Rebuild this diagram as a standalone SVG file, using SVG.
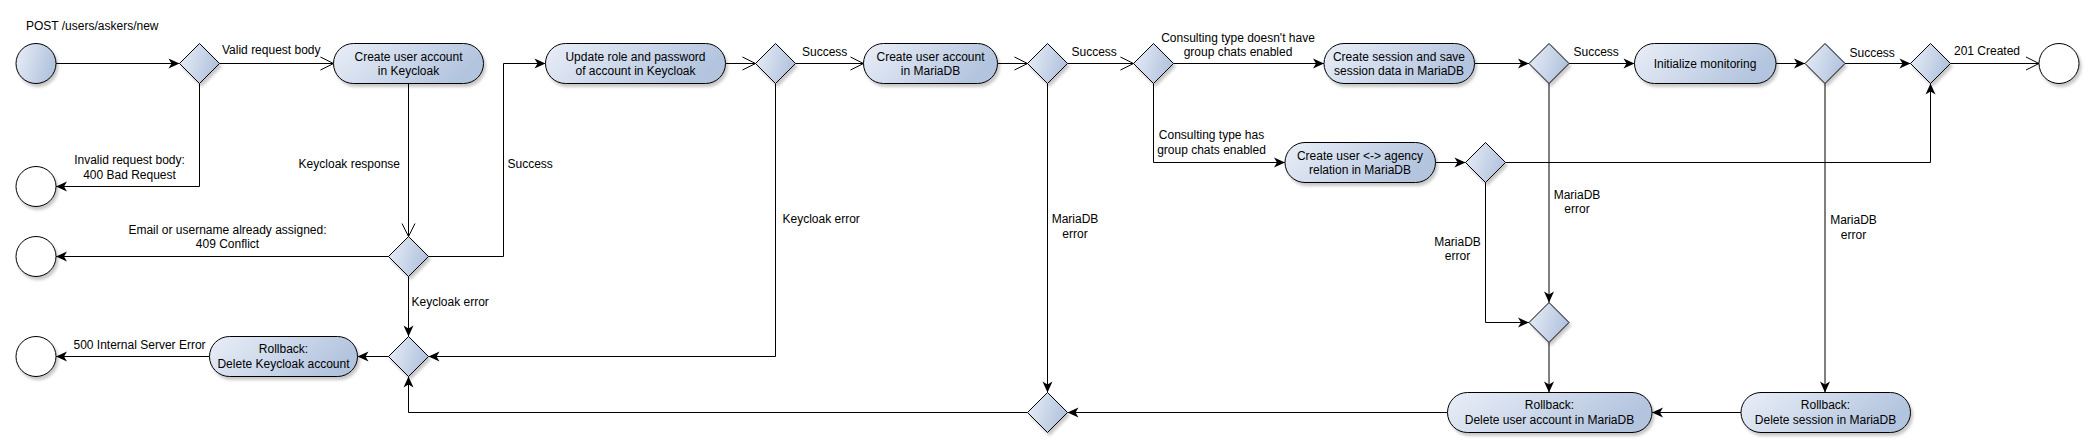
<svg xmlns="http://www.w3.org/2000/svg" width="2095" height="448" viewBox="0 0 2095 448">
<defs>
<linearGradient id="g" x1="0" y1="0" x2="1" y2="0.3">
<stop offset="0" stop-color="#eaeff8"/>
<stop offset="1" stop-color="#b3c4de"/>
</linearGradient>
<filter id="sh" x="-20%" y="-20%" width="150%" height="160%">
<feDropShadow dx="2" dy="3" stdDeviation="1.5" flood-color="#000" flood-opacity="0.22"/>
</filter>
<marker id="cl" markerUnits="userSpaceOnUse" markerWidth="12" markerHeight="11" refX="11" refY="5" orient="auto" overflow="visible">
<path d="M0,0 L11,5 L0,10 L3,5 Z" fill="#000"/>
</marker>
<marker id="op" markerUnits="userSpaceOnUse" markerWidth="14" markerHeight="14" refX="13" refY="6.5" orient="auto" overflow="visible">
<path d="M0,0 L13,6.5 L0,13" fill="none" stroke="#000" stroke-width="1"/>
</marker>
</defs>
<style>
.n{fill:url(#g);stroke:#000;stroke-width:1;filter:url(#sh)}
.e{fill:#fff;stroke:#000;stroke-width:1;filter:url(#sh)}
.c{fill:none;stroke:#000;stroke-width:1}
.a{marker-end:url(#cl)}
.o{marker-end:url(#op)}
text{font-family:"Liberation Sans",Arial,sans-serif;font-size:12px;fill:#000}
.m{text-anchor:middle}
</style>
<rect width="2095" height="448" fill="#fff"/>

<text x="26" y="29.5">POST /users/askers/new</text>

<g id="connectors">
<path class="c a" d="M56,63.5 H179.5"/>
<path class="c o" d="M219.5,63.5 H333.5"/>
<path class="c a" d="M199.5,83.5 V186.5 H56"/>
<path class="c o" d="M408.5,83.5 V236.5"/>
<path class="c a" d="M388.5,256.5 H56"/>
<path class="c a" d="M428.5,256.5 H503.5 V63.5 H545.5"/>
<path class="c a" d="M408.5,276.5 V336.5"/>
<path class="c a" d="M388.5,356.5 H357.5"/>
<path class="c a" d="M209.5,356.5 H56"/>
<path class="c o" d="M725.5,63.5 H755.5"/>
<path class="c o" d="M795.5,63.5 H863.5"/>
<path class="c a" d="M775.5,83.5 V356.5 H428.5"/>
<path class="c o" d="M997.5,63.5 H1027.5"/>
<path class="c o" d="M1067.5,63.5 H1133.5"/>
<path class="c a" d="M1047.5,83.5 V392.5"/>
<path class="c a" d="M1173.5,63.5 H1324"/>
<path class="c a" d="M1153.5,83.5 V162.5 H1285"/>
<path class="c a" d="M1474.5,63.5 H1529"/>
<path class="c a" d="M1569,63.5 H1634.5"/>
<path class="c a" d="M1549,83.5 V302.5"/>
<path class="c a" d="M1776,63.5 H1805"/>
<path class="c a" d="M1845,63.5 H1910.5"/>
<path class="c o" d="M1950.5,63.5 H2039"/>
<path class="c a" d="M1435.5,162.5 H1465.5"/>
<path class="c a" d="M1505.5,162.5 H1930.5 V83.5"/>
<path class="c a" d="M1485.5,182.5 V322.5 H1529"/>
<path class="c a" d="M1549,342.5 V392.5"/>
<path class="c a" d="M1825,83.5 V392.5"/>
<path class="c a" d="M1741,412.5 H1652"/>
<path class="c a" d="M1447.5,412.5 H1067.5"/>
<path class="c a" d="M1027.5,412.5 H408.5 V376.5"/>

<text x="222" y="54">Valid request body</text>
<text class="m" x="129.5" y="164">Invalid request body:</text>
<text class="m" x="129.5" y="178.5">400 Bad Request</text>
<text x="400" y="168" text-anchor="end">Keycloak response</text>
<text class="m" x="227.5" y="234">Email or username already assigned:</text>
<text class="m" x="227.5" y="248">409 Conflict</text>
<text x="507.5" y="168">Success</text>
<text x="411.5" y="305.5">Keycloak error</text>
<text x="73.5" y="348.5">500 Internal Server Error</text>
<text x="802" y="55.5">Success</text>
<text x="782.5" y="223">Keycloak error</text>
<text x="1071.5" y="55.5">Success</text>
<text class="m" x="1075" y="223">MariaDB</text>
<text class="m" x="1075" y="237.5">error</text>
<text class="m" x="1238" y="41.5">Consulting type doesn't have</text>
<text class="m" x="1238" y="55.5">group chats enabled</text>
<text class="m" x="1211.5" y="139">Consulting type has</text>
<text class="m" x="1211.5" y="154">group chats enabled</text>
<text x="1573.5" y="55.5">Success</text>
<text class="m" x="1577" y="199">MariaDB</text>
<text class="m" x="1577" y="213">error</text>
<text x="1849.5" y="56.5">Success</text>
<text x="1954" y="55">201 Created</text>
<text class="m" x="1457.5" y="246">MariaDB</text>
<text class="m" x="1457.5" y="260">error</text>
<text class="m" x="1853.5" y="224">MariaDB</text>
<text class="m" x="1853.5" y="239">error</text>
</g>

<g id="start"><circle class="n" cx="36" cy="63.5" r="20"/></g>
<g id="end400"><circle class="e" cx="36" cy="186.5" r="20"/></g>
<g id="end409"><circle class="e" cx="36" cy="256.5" r="20"/></g>
<g id="end500"><circle class="e" cx="36" cy="356.5" r="20"/></g>
<g id="end201"><circle class="e" cx="2059" cy="63.5" r="20"/></g>

<g id="d1"><polygon class="n" points="199.5,43.5 219.5,63.5 199.5,83.5 179.5,63.5"/></g>
<g id="d2"><polygon class="n" points="408.5,236.5 428.5,256.5 408.5,276.5 388.5,256.5"/></g>
<g id="d3"><polygon class="n" points="408.5,336.5 428.5,356.5 408.5,376.5 388.5,356.5"/></g>
<g id="d4"><polygon class="n" points="775.5,43.5 795.5,63.5 775.5,83.5 755.5,63.5"/></g>
<g id="d5"><polygon class="n" points="1047.5,43.5 1067.5,63.5 1047.5,83.5 1027.5,63.5"/></g>
<g id="d6"><polygon class="n" points="1153.5,43.5 1173.5,63.5 1153.5,83.5 1133.5,63.5"/></g>
<g id="d7"><polygon class="n" points="1047.5,392.5 1067.5,412.5 1047.5,432.5 1027.5,412.5"/></g>
<g id="d8"><polygon class="n" points="1549,43.5 1569,63.5 1549,83.5 1529,63.5"/></g>
<g id="d9"><polygon class="n" points="1825,43.5 1845,63.5 1825,83.5 1805,63.5"/></g>
<g id="d10"><polygon class="n" points="1930.5,43.5 1950.5,63.5 1930.5,83.5 1910.5,63.5"/></g>
<g id="d11"><polygon class="n" points="1485.5,142.5 1505.5,162.5 1485.5,182.5 1465.5,162.5"/></g>
<g id="d12"><polygon class="n" points="1549,302.5 1569,322.5 1549,342.5 1529,322.5"/></g>

<g id="createKeycloak"><rect class="n" x="333.5" y="43.5" width="150" height="40" rx="20"/>
<text class="m" x="408.5" y="60.5">Create user account</text><text class="m" x="408.5" y="75">in Keycloak</text></g>
<g id="updateRole"><rect class="n" x="545.5" y="43.5" width="180" height="40" rx="20"/>
<text class="m" x="635.5" y="60.5">Update role and password</text><text class="m" x="635.5" y="75">of account in Keycloak</text></g>
<g id="createMaria"><rect class="n" x="863.5" y="43.5" width="134" height="40" rx="20"/>
<text class="m" x="930.5" y="60.5">Create user account</text><text class="m" x="930.5" y="75">in MariaDB</text></g>
<g id="createSession"><rect class="n" x="1324" y="43.5" width="150.5" height="40" rx="20"/>
<text class="m" x="1399" y="60.5">Create session and save</text><text class="m" x="1399" y="75">session data in MariaDB</text></g>
<g id="initMonitoring"><rect class="n" x="1634.5" y="43.5" width="141.5" height="40" rx="20"/>
<text class="m" x="1705" y="67.5">Initialize monitoring</text></g>
<g id="relation"><rect class="n" x="1285" y="142.5" width="150.5" height="40" rx="20"/>
<text class="m" x="1360" y="159.5">Create user &lt;-&gt; agency</text><text class="m" x="1360" y="174">relation in MariaDB</text></g>
<g id="rollbackKeycloak"><rect class="n" x="209.5" y="336.5" width="148" height="40" rx="20"/>
<text class="m" x="283.5" y="352.5">Rollback:</text><text class="m" x="283.5" y="367.5">Delete Keycloak account</text></g>
<g id="rollbackUser"><rect class="n" x="1447.5" y="392.5" width="204.5" height="40" rx="20"/>
<text class="m" x="1549.5" y="409">Rollback:</text><text class="m" x="1549.5" y="424">Delete user account in MariaDB</text></g>
<g id="rollbackSession"><rect class="n" x="1741" y="392.5" width="169.5" height="40" rx="20"/>
<text class="m" x="1825.5" y="409">Rollback:</text><text class="m" x="1825.5" y="424">Delete session in MariaDB</text></g>
</svg>
